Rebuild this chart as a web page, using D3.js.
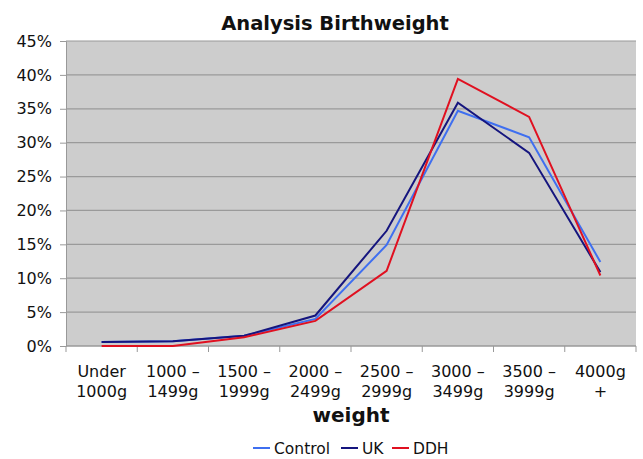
<!DOCTYPE html>
<html>
<head>
<meta charset="utf-8">
<script src="https://cdn.jsdelivr.net/npm/d3@7"></script>
<style>
  body { margin: 0; background: #fff; }
  text { font-family: "DejaVu Sans", Verdana, sans-serif; fill: #111; }
</style>
</head>
<body>
<div id="chart"></div>
<script>
// weight bands (two-line labels)
const categories = [
  ["Under", "1000g"], ["1000 \u2013", "1499g"], ["1500 \u2013", "1999g"], ["2000 \u2013", "2499g"],
  ["2500 \u2013", "2999g"], ["3000 \u2013", "3499g"], ["3500 \u2013", "3999g"], ["4000g", "+"]
];
const controlValues = [0.6, 0.7, 1.5, 4.0, 14.9, 34.7, 30.8, 12.4];
const ukValues = [0.6, 0.7, 1.5, 4.5, 17.0, 35.9, 28.5, 10.9];
const ddhValues = [0.0, 0.0, 1.3, 3.7, 11.1, 39.4, 33.8, 10.4];
const yTicks = [0, 5, 10, 15, 20, 25, 30, 35, 40, 45];

const series = [
  { name: "Control", values: controlValues, color: "#3f6ff0" },
  { name: "UK", values: ukValues, color: "#15157e" },
  { name: "DDH", values: ddhValues, color: "#e01020" }
];

const W = 643, H = 459;
const margin = { top: 41, right: 7, bottom: 113, left: 66 };
const width = W - margin.left - margin.right;
const height = H - margin.top - margin.bottom;

const svg = d3.select("#chart").append("svg")
  .attr("width", W).attr("height", H);

svg.append("text")
  .attr("x", 335).attr("y", 30)
  .attr("text-anchor", "middle")
  .style("font-weight", "bold").style("font-size", "19.5px")
  .text("Analysis Birthweight");

const g = svg.append("g").attr("transform", `translate(${margin.left},${margin.top})`);

const x = d3.scaleBand().domain(d3.range(categories.length)).range([0, width]);
const y = d3.scaleLinear().domain([0, 45]).range([height, 0]);

g.append("rect").attr("width", width).attr("height", height).attr("fill", "#cdcdcd");

// gridlines
g.selectAll(".grid").data(yTicks).enter().append("line")
  .attr("x1", 0).attr("x2", width)
  .attr("y1", d => y(d)).attr("y2", d => y(d))
  .attr("stroke", "#9a9a9a").attr("stroke-width", 1.2);

// y axis
const yAxis = g.append("g")
  .call(d3.axisLeft(y).tickValues(yTicks).tickFormat(d => d + "%").tickSize(6).tickPadding(8));
yAxis.select(".domain").attr("stroke", "#999");
yAxis.selectAll(".tick line").attr("stroke", "#999");
yAxis.selectAll("text").style("font-size", "16px").attr("fill", "#111");

// x axis: ticks at band boundaries
const xAxisG = g.append("g").attr("transform", `translate(0,${height})`);
xAxisG.append("line").attr("x1", 0).attr("x2", width).attr("stroke", "#999");
xAxisG.selectAll(".xt").data(d3.range(categories.length + 1)).enter().append("line")
  .attr("x1", d => d * x.step()).attr("x2", d => d * x.step())
  .attr("y1", 0).attr("y2", 6).attr("stroke", "#999");
const labels = xAxisG.selectAll(".xl").data(categories).enter().append("text")
  .attr("text-anchor", "middle")
  .style("font-size", "16px")
  .attr("transform", (d, i) => `translate(${x(i) + x.bandwidth() / 2},0)`);
labels.append("tspan").attr("x", 0).attr("y", 31).text(d => d[0]);
labels.append("tspan").attr("x", 0).attr("y", 51).text(d => d[1]);

svg.append("text")
  .attr("x", margin.left + width / 2).attr("y", 422)
  .attr("text-anchor", "middle")
  .style("font-weight", "bold").style("font-size", "20px")
  .text("weight");

// lines
const line = d3.line()
  .x((d, i) => x(i) + x.bandwidth() / 2)
  .y(d => y(d));

g.selectAll(".series").data(series).enter().append("path")
  .attr("d", d => line(d.values))
  .attr("fill", "none")
  .attr("stroke", d => d.color)
  .attr("stroke-width", 2);

// legend
const legendX = [253, 341, 392];
const legend = svg.selectAll(".legend").data(series).enter().append("g")
  .attr("transform", (d, i) => `translate(${legendX[i]},454)`);
legend.append("line").attr("x1", 0).attr("x2", 17).attr("y1", -6).attr("y2", -6)
  .attr("stroke", d => d.color).attr("stroke-width", 2);
legend.append("text").attr("x", 21).attr("y", 0)
  .style("font-size", "15.5px").text(d => d.name);
</script>
</body>
</html>
